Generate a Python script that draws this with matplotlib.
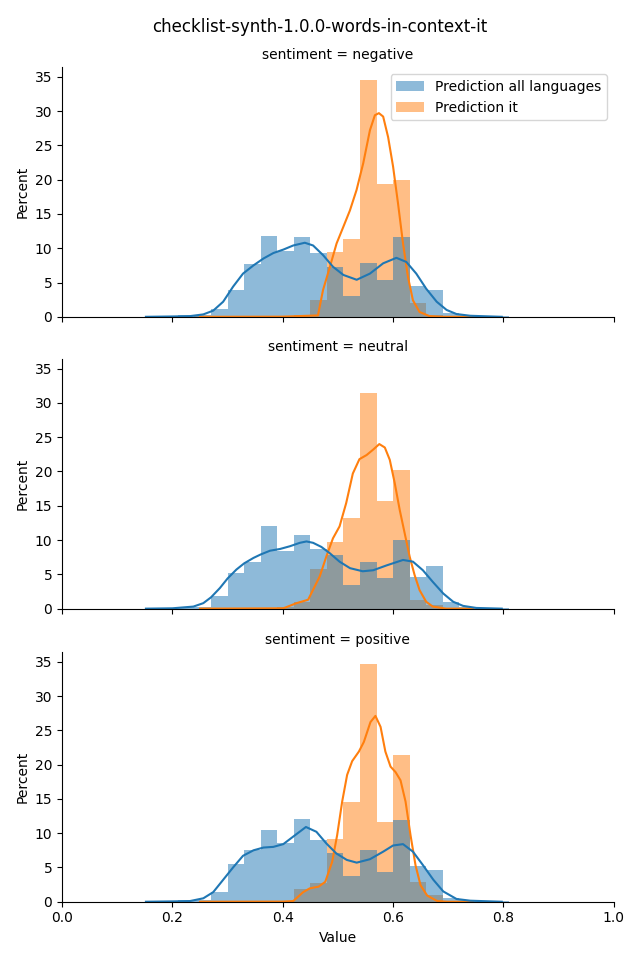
import matplotlib
matplotlib.use("Agg")
import matplotlib.pyplot as plt
import numpy as np

# histogram bins (percent per bin), bins of width 0.03 starting at 0.15
bin_start = 0.15
bin_width = 0.03

sentiments = ["negative", "neutral", "positive"]
labels = ["Prediction all languages", "Prediction it"]

# "Prediction all languages"
all_neg = [0.1, 0.1, 0.2, 0.3, 1.1, 3.9, 7.7, 11.8, 9.6, 11.6, 9.3, 7.2, 3.0, 7.9, 5.4, 11.6, 4.5, 3.9, 0.5, 0.2, 0.1, 0.1]
all_neu = [0.1, 0.1, 0.2, 0.3, 1.85, 5.2, 6.85, 12.05, 8.45, 10.7, 8.7, 7.8, 3.45, 6.8, 4.5, 10.0, 4.6, 6.2, 1.0, 0.25, 0.1, 0.1]
all_pos = [0.1, 0.1, 0.2, 0.3, 1.36, 5.5, 7.5, 10.45, 8.55, 12.05, 9.0, 7.15, 3.8, 7.5, 4.3, 11.9, 5.2, 4.6, 0.5, 0.2, 0.1, 0.1]

# "Prediction it"
it_neg = [0, 0, 0, 0.1, 0, 0, 0, 0, 0, 0.2, 2.5, 9.4, 11.3, 34.6, 19.4, 19.9, 2.0, 0.2, 0, 0, 0, 0]
it_neu = [0, 0, 0, 0, 0, 0, 0, 0, 0.2, 1.0, 5.8, 9.7, 13.2, 31.4, 15.7, 20.2, 1.26, 0.5, 0, 0, 0, 0]
it_pos = [0, 0, 0, 0, 0, 0, 0, 0, 0.1, 1.8, 2.7, 9.2, 14.5, 34.65, 11.6, 21.4, 2.9, 1.0, 0, 0, 0, 0]

# KDE curves (x value, percent)
kde_all_x = {
    "negative": [0.152, 0.2, 0.232, 0.256, 0.274, 0.292, 0.310, 0.328, 0.347, 0.365, 0.383, 0.401, 0.419,
                 0.440, 0.455, 0.473, 0.491, 0.510, 0.534, 0.558, 0.582, 0.606, 0.624, 0.642, 0.660,
                 0.679, 0.697, 0.715, 0.74, 0.797],
    "neutral": [0.152, 0.2, 0.238, 0.256, 0.27, 0.286, 0.30, 0.316, 0.33, 0.347, 0.36, 0.377, 0.395, 0.413,
                0.431, 0.443, 0.455, 0.47, 0.485, 0.503, 0.522, 0.545, 0.564, 0.588, 0.618, 0.636, 0.654,
                0.672, 0.691, 0.709, 0.727, 0.751, 0.797],
    "positive": [0.152, 0.2, 0.232, 0.256, 0.274, 0.292, 0.310, 0.328, 0.347, 0.365, 0.383, 0.401, 0.419,
                 0.442, 0.461, 0.479, 0.497, 0.516, 0.534, 0.558, 0.582, 0.600, 0.618, 0.636, 0.654,
                 0.673, 0.691, 0.715, 0.74, 0.797],
}
kde_all_y = {
    "negative": [0, 0.05, 0.1, 0.35, 0.9, 2.2, 4.4, 6.3, 7.5, 8.5, 9.3, 9.8, 10.4,
                 10.8, 10.4, 9.0, 7.3, 6.1, 5.4, 6.3, 7.8, 8.6, 8.0, 6.3, 4.1,
                 2.2, 1.0, 0.4, 0.15, 0],
    "neutral": [0, 0.05, 0.3, 0.8, 1.65, 3.0, 4.4, 5.7, 6.6, 7.4, 7.9, 8.45, 8.7, 9.1,
                9.6, 9.8, 9.6, 9.0, 8.1, 6.85, 5.9, 5.45, 5.6, 6.3, 7.1, 6.85, 5.6,
                3.9, 2.2, 1.0, 0.4, 0.1, 0],
    "positive": [0, 0.05, 0.1, 0.5, 1.4, 3.2, 5.0, 6.7, 7.5, 7.9, 8.0, 8.4, 9.5,
                 10.9, 10.2, 8.5, 7.05, 6.1, 5.7, 6.2, 7.3, 8.2, 8.4, 7.3, 5.35,
                 3.2, 1.5, 0.4, 0.15, 0],
}
kde_it_x = {
    "negative": [0.25, 0.40, 0.4638, 0.473, 0.4855, 0.4976, 0.5097, 0.5217, 0.5338, 0.5459, 0.558,
                 0.567, 0.5743, 0.582, 0.591, 0.600, 0.609, 0.618, 0.627, 0.636, 0.648, 0.666, 0.69, 0.745],
    "neutral": [0.25, 0.401, 0.425, 0.446, 0.467, 0.479, 0.491, 0.503, 0.515, 0.527, 0.539, 0.552, 0.564,
                0.575, 0.585, 0.594, 0.603, 0.612, 0.621, 0.630, 0.639, 0.648, 0.660, 0.672, 0.696, 0.745],
    "positive": [0.25, 0.40, 0.419, 0.437, 0.449, 0.465, 0.477, 0.4895, 0.4986, 0.5077, 0.5167, 0.5258,
                 0.538, 0.547, 0.559, 0.568, 0.5773, 0.586, 0.5954, 0.6045, 0.6135, 0.6226, 0.6316,
                 0.6407, 0.6498, 0.6618, 0.680, 0.698, 0.745],
}
kde_it_y = {
    "negative": [0, 0.02, 0.2, 3.9, 7.3, 10.7, 13.1, 15.5, 18.5, 22.4, 27.2,
                 29.4, 29.7, 29.2, 26.2, 21.9, 16.5, 10.7, 5.8, 2.4, 0.7, 0.1, 0, 0],
    "neutral": [0, 0.05, 0.8, 1.3, 4.7, 7.6, 10.25, 12.0, 15.4, 19.7, 21.8, 22.4, 23.2,
                24.0, 23.5, 21.7, 18.3, 14.4, 11.0, 7.6, 4.9, 2.7, 1.0, 0.3, 0, 0],
    "positive": [0, 0.02, 0.1, 1.4, 1.95, 2.2, 2.9, 5.8, 9.7, 14.6, 18.5, 20.5,
                 21.9, 23.3, 26.2, 27.1, 25.5, 21.9, 19.7, 18.9, 17.7, 14.6, 9.7,
                 5.3, 2.4, 0.9, 0.1, 0, 0],
}

hist_all = {"negative": all_neg, "neutral": all_neu, "positive": all_pos}
hist_it = {"negative": it_neg, "neutral": it_neu, "positive": it_pos}

blue = "#1f77b4"
orange = "#ff7f0e"

fig = plt.figure(figsize=(6.4, 9.6), dpi=100)
bottoms = [0.670, 0.366, 0.0607]
axes = []
for b in bottoms:
    ax = fig.add_axes([0.097, b, 0.862, 0.260], sharex=axes[0] if axes else None,
                      sharey=axes[0] if axes else None)
    axes.append(ax)

for ax, sent in zip(axes, sentiments):
    n = len(hist_all[sent])
    left_edges = bin_start + bin_width * np.arange(n)
    # orange drawn first, blue on top (gives the grey overlap)
    ax.bar(left_edges, hist_it[sent], width=bin_width, align="edge",
           color=orange, alpha=0.5, linewidth=0, label=labels[1])
    ax.bar(left_edges, hist_all[sent], width=bin_width, align="edge",
           color=blue, alpha=0.5, linewidth=0, label=labels[0])
    ax.plot(kde_it_x[sent], kde_it_y[sent], color=orange, linewidth=1.5)
    ax.plot(kde_all_x[sent], kde_all_y[sent], color=blue, linewidth=1.5)

    ax.set_title(f"sentiment = {sent}", fontsize=10)
    ax.set_ylabel("Percent")
    ax.spines["top"].set_visible(False)
    ax.spines["right"].set_visible(False)

axes[0].set_xlim(0, 1)
axes[0].set_ylim(0, 36.4)
axes[0].set_yticks(np.arange(0, 36, 5))
for ax in axes[:-1]:
    ax.tick_params(labelbottom=False)
axes[-1].set_xlabel("Value")

handles, hlabels = axes[0].get_legend_handles_labels()
axes[0].legend(handles[::-1], hlabels[::-1], loc="upper right")

fig.suptitle("checklist-synth-1.0.0-words-in-context-it", fontsize=12, y=0.972, va="center")

fig.savefig("out.png", dpi=100)
